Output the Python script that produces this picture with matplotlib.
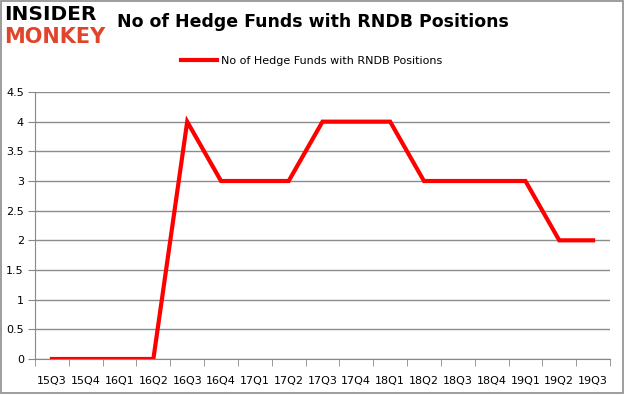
import matplotlib.pyplot as plt
from matplotlib.patches import Rectangle

# Data
quarters = ["15Q3", "15Q4", "16Q1", "16Q2", "16Q3", "16Q4", "17Q1", "17Q2", "17Q3",
            "17Q4", "18Q1", "18Q2", "18Q3", "18Q4", "19Q1", "19Q2", "19Q3"]
funds = [0, 0, 0, 0, 4, 3, 3, 3, 4, 4, 4, 3, 3, 3, 3, 2, 2]
yticks = [0, 0.5, 1, 1.5, 2, 2.5, 3, 3.5, 4, 4.5]
ytick_labels = ["0", "0.5", "1", "1.5", "2", "2.5", "3", "3.5", "4", "4.5"]
series_name = "No of Hedge Funds with RNDB Positions"

W, H = 625, 395
fig = plt.figure(figsize=(W / 100, H / 100), dpi=100)

# outer border
fig.patches.append(Rectangle((1 / W, 2 / H), 622 / W, 392 / H, transform=fig.transFigure,
                             fill=False, edgecolor="#8c8c8c", linewidth=1.2))

ax = fig.add_axes([35 / W, 1 - 359 / H, 575 / W, 267 / H])
x = list(range(len(quarters)))
ax.plot(x, funds, color="#ff0000", linewidth=3, label=series_name, solid_joinstyle="miter")

ax.set_xlim(-0.5, len(quarters) - 0.5)
ax.set_ylim(0, 4.5)
ax.set_yticks(yticks)
ax.set_yticklabels(ytick_labels, fontsize=8)
ax.set_xticks(x)
ax.set_xticklabels(quarters, fontsize=8)
ax.set_xticks([i - 0.5 for i in range(len(quarters) + 1)], minor=True)
ax.tick_params(axis="x", which="major", length=0, pad=12)
ax.tick_params(axis="x", which="minor", length=5, color="#888888")
ax.tick_params(axis="y", length=5, color="#888888", pad=3)
ax.yaxis.grid(True, color="#8c8c8c", linewidth=1)
ax.set_axisbelow(True)
for s in ["top", "right"]:
    ax.spines[s].set_visible(False)
for s in ["left", "bottom"]:
    ax.spines[s].set_color("#888888")

leg = fig.legend(loc="center", bbox_to_anchor=(312 / W, 1 - 61 / H), frameon=False,
                 fontsize=8, handlelength=3.2, handletextpad=0.4)

fig.text(313 / W, 1 - 22 / H, "No of Hedge Funds with RNDB Positions", ha="center", va="center",
         fontsize=12.5, fontweight="bold")

# logo
fig.text(4 / W, 1 - 15 / H, "INSIDER", fontsize=14.5, fontweight="heavy", color="black",
         va="center", ha="left", family="DejaVu Sans")
fig.text(4 / W, 1 - 37 / H, "MONKEY", fontsize=15, fontweight="heavy", color="#e0452c",
         va="center", ha="left", family="DejaVu Sans")

fig.savefig("out.png", dpi=100)
